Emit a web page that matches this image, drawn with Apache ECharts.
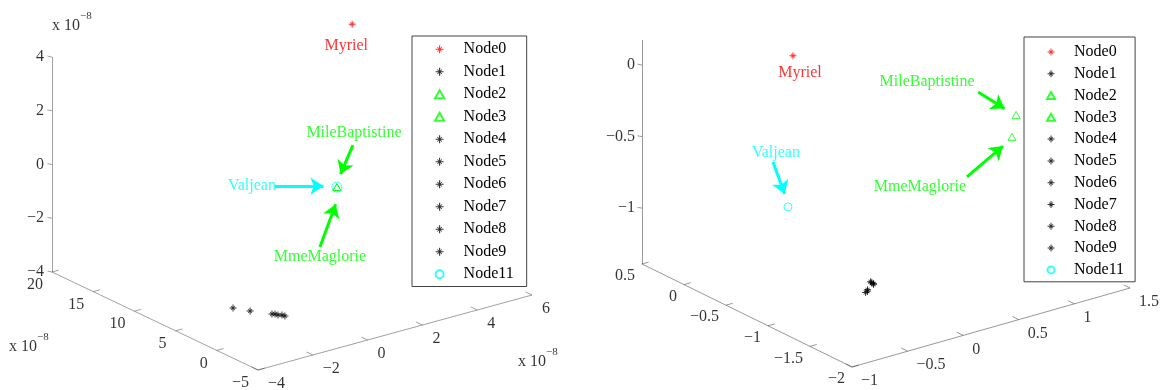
<!DOCTYPE html>
<html><head><meta charset="utf-8">
<script src="https://cdn.jsdelivr.net/npm/echarts@6/dist/echarts.min.js"></script>
<style>html,body{margin:0;padding:0;background:#fff}#c{width:1163px;height:390px}</style>
</head><body><div id="c"></div>
<script>
// ---------------- DATA ----------------
const nodeNames = ['Node0','Node1','Node2','Node3','Node4','Node5','Node6','Node7','Node8','Node9','Node11'];
const nodeKind  = ['redStar','star','tri','tri','star','star','star','star','star','star','circle'];

// left panel, values in units of 1e-8
const leftX = [4.55, -1.82, 1.50, 1.50, -1.57, -1.21, -1.14, -1.12, -1.03, -1.01, 1.50];
const leftY = [12.0, 5.28, 3.71, 3.71, 4.04, 2.58, 2.44, 2.15, 1.97, 1.68, 3.71];
const leftZ = [4.0, -3.8, 0.0, 0.0, -3.8, -3.8, -3.8, -3.8, -3.8, -3.8, 0.0];

// right panel
const rightX = [-0.166, -0.06, 1.216, 1.103, -0.05, -0.18, -0.07, -0.19, -0.06, -0.18, -0.155];
const rightY = [-0.193, -0.99, -1.02, -1.12, -1.00, -1.10, -0.99, -1.09, -1.01, -1.10, -0.119];
const rightZ = [0.08, -1.30, -0.40, -0.50, -1.31, -1.30, -1.29, -1.31, -1.30, -1.29, -1.0];

const leftXTicks = [-4, -2, 0, 2, 4, 6];
const leftYTicks = [-5, 0, 5, 10, 15, 20];
const leftZTicks = [-4, -2, 0, 2, 4];
const rightXTicks = [-1, -0.5, 0, 0.5, 1, 1.5];
const rightYTicks = [-2, -1.5, -1, -0.5, 0, 0.5];
const rightZTicks = [-1, -0.5, 0];

const leftRange  = {x: [-4, 6], y: [-5, 20], z: [-4, 4]};
const rightRange = {x: [-1, 1.5], y: [-2, 0.5], z: [-1.39, 0.175]};

const annoText  = ['Myriel', 'MileBaptistine', 'MmeMaglorie', 'Valjean'];
const annoNode  = ['Node0', 'Node2', 'Node3', 'Node11'];
const multiplierText = '−8';

// ---------------- LAYOUT / STYLE ----------------
const FONT = 'Liberation Serif';
const colors = {redStar: '#ff0000', star: '#000000', tri: '#00ff00', circle: '#00ffff'};
const annoColor = ['#ff0000', '#00ff00', '#00ff00', '#00ffff'];
const starPath = 'path://M8.6,0H11.4V20H8.6Z M0,8.6H20V11.4H0Z M5,3.6L16.4,15L15,16.4L3.6,5Z M15,3.6L16.4,5L5,16.4L3.6,15Z';
const triPath = 'path://M10,0L20,17.32L0,17.32Z';

const panels = [
  {
    range: leftRange, xs: leftX, ys: leftY, zs: leftZ,
    xTicks: leftXTicks, yTicks: leftYTicks, zTicks: leftZTicks,
    corner: [258, 370], xEnd: [532, 295], yEnd: [52, 272], zTop: [52, 57],
    axisColor: '#444',
    xLab: [10, 14], yLab: [-9, 13], zLab: [-8, 0], tickLen: 7, zTickLen: 5,
    sizes: {redStar: 7, star: 7, tri: 8, circle: 10},
    anno: [
      {t: [-6, 22]},
      {t: [17, -54], a: [16, -42], h: [1, -7]},
      {t: [-17, 70], a: [-17, 60], h: [1, 11]},
      {t: [-85, -1], a: [-62, -1], h: [-7, -1]}
    ],
    mult: [ {at: 'z', off: [0, -31]}, {at: 'y', off: [-43, 75]}, {at: 'x', off: [-14, 67]} ]
  },
  {
    range: rightRange, xs: rightX, ys: rightY, zs: rightZ,
    xTicks: rightXTicks, yTicks: rightYTicks, zTicks: rightZTicks,
    corner: [852, 367], xEnd: [1130, 288], yEnd: [642, 264], zTop: [642, 40],
    axisColor: '#333',
    xLab: [9, 14], yLab: [-7, 12], zLab: [-7, 0], tickLen: 7, zTickLen: 5,
    sizes: {redStar: 7, star: 7, tri: 8, circle: 8},
    anno: [
      {t: [7, 17]},
      {t: [-89, -33], a: [-38, -23], h: [-6, -3]},
      {t: [-92, 50], a: [-45, 40], h: [-4, 5]},
      {t: [-12, -54], a: [-15, -45], h: [-1, -7]}
    ],
    mult: []
  }
];

// ---------------- PROJECTION ----------------
panels.forEach(P => {
  const r = P.range;
  const dx = r.x[1] - r.x[0], dy = r.y[1] - r.y[0], dz = r.z[1] - r.z[0];
  P.X = [(P.xEnd[0] - P.corner[0]) / dx, (P.xEnd[1] - P.corner[1]) / dx];
  P.Y = [(P.yEnd[0] - P.corner[0]) / dy, (P.yEnd[1] - P.corner[1]) / dy];
  P.Z = [(P.zTop[0] - P.yEnd[0]) / dz, (P.zTop[1] - P.yEnd[1]) / dz];
  P.proj = (x, y, z) => {
    const a = x - r.x[0], b = y - r.y[0], c = z - r.z[0];
    return [P.corner[0] + a * P.X[0] + b * P.Y[0] + c * P.Z[0],
            P.corner[1] + a * P.X[1] + b * P.Y[1] + c * P.Z[1]];
  };
});
const unit = v => { const l = Math.hypot(v[0], v[1]); return [v[0] / l, v[1] / l]; };
const add = (p, o) => [p[0] + o[0], p[1] + o[1]];
const fmt = v => String(v).replace('-', '\u2212');

const series = [];

// axes
const axisLines = [], tickLabels = [];
panels.forEach(P => {
  const r = P.range;
  const lineStyle = {color: P.axisColor, width: 1};
  const xa = [P.proj(r.x[0], r.y[0], r.z[0]), P.proj(r.x[1], r.y[0], r.z[0])];
  const ya = [P.proj(r.x[0], r.y[0], r.z[0]), P.proj(r.x[0], r.y[1], r.z[0])];
  const za = [P.proj(r.x[0], r.y[1], r.z[0]), P.proj(r.x[0], r.y[1], r.z[1])];
  [xa, ya, za].forEach(c => axisLines.push({coords: c, lineStyle}));
  const uX = unit(P.X), uY = unit(P.Y);
  P.xTicks.forEach(v => {
    const p = P.proj(v, r.y[0], r.z[0]);
    axisLines.push({coords: [p, add(p, [uY[0] * P.tickLen, uY[1] * P.tickLen])], lineStyle});
    tickLabels.push({value: p, name: fmt(v), label: {position: P.xLab, align: 'left'}});
  });
  P.yTicks.forEach(v => {
    const p = P.proj(r.x[0], v, r.z[0]);
    axisLines.push({coords: [p, add(p, [uX[0] * P.tickLen, uX[1] * P.tickLen])], lineStyle});
    tickLabels.push({value: p, name: fmt(v), label: {position: P.yLab, align: 'right'}});
  });
  P.zTicks.forEach(v => {
    const p = P.proj(r.x[0], r.y[1], v);
    axisLines.push({coords: [p, add(p, [uY[0] * P.zTickLen, uY[1] * P.zTickLen * 0.4])], lineStyle});
    tickLabels.push({value: p, name: fmt(v), label: {position: P.zLab, align: 'right'}});
  });
});
series.push({type: 'lines', coordinateSystem: 'cartesian2d', name: 'axes', silent: true, z: 1,
  data: axisLines, symbol: ['none', 'none']});
series.push({type: 'scatter', name: 'ticklabels', silent: true, symbolSize: 0, z: 2,
  data: tickLabels,
  label: {show: true, formatter: '{b}', verticalAlign: 'middle', fontFamily: FONT, fontSize: 16, color: '#000'}});

// multipliers
const multData = [];
panels.forEach(P => {
  const r = P.range;
  P.mult.forEach(m => {
    let p;
    if (m.at === 'z') p = P.proj(r.x[0], r.y[1], r.z[1]);
    if (m.at === 'y') p = P.proj(r.x[0], r.y[1], r.z[0]);
    if (m.at === 'x') p = P.proj(r.x[1], r.y[0], r.z[0]);
    multData.push({value: p, name: multiplierText, label: {position: m.off}});
  });
});
series.push({type: 'scatter', name: 'mult', silent: true, symbolSize: 0, z: 2, data: multData,
  label: {show: true, align: 'left', verticalAlign: 'middle',
    formatter: p => '{b|x 10}{s|' + p.name + '}',
    rich: {b: {fontFamily: FONT, fontSize: 16, lineHeight: 30, color: '#000'},
           s: {fontFamily: FONT, fontSize: 11, lineHeight: 11, verticalAlign: 'top', color: '#000'}}}});

// nodes
nodeNames.forEach((name, i) => {
  const kind = nodeKind[i];
  const hollow = (kind === 'tri' || kind === 'circle');
  const symbol = kind === 'tri' ? triPath : (kind === 'circle' ? 'circle' : starPath);
  const data = panels.map(P => ({value: P.proj(P.xs[i], P.ys[i], P.zs[i]), symbolSize: P.sizes[kind]}));
  series.push({
    type: 'scatter', name, symbol, data, z: 5, silent: true, symbolKeepAspect: true,
    itemStyle: hollow ? {color: 'rgba(255,255,255,0)', borderColor: colors[kind], borderWidth: 1}
                      : {color: colors[kind], borderWidth: 0}
  });
});

// annotations
const annoLabels = [], arrows = [];
const ARROW = 13;
panels.forEach(P => {
  annoText.forEach((txt, k) => {
    const i = nodeNames.indexOf(annoNode[k]);
    const p = P.proj(P.xs[i], P.ys[i], P.zs[i]);
    const A = P.anno[k];
    annoLabels.push({value: add(p, A.t), name: txt, label: {color: annoColor[k]}});
    if (A.a) {
      const tail = add(p, A.a), head = add(p, A.h);
      const u = unit([head[0] - tail[0], head[1] - tail[1]]);
      const headC = [head[0] - u[0] * ARROW / 2, head[1] - u[1] * ARROW / 2];
      arrows.push({coords: [tail, headC], lineStyle: {color: annoColor[k]}});
    }
  });
});
series.push({type: 'scatter', name: 'annotations', silent: true, symbolSize: 0, z: 6, data: annoLabels,
  label: {show: true, position: 'inside', formatter: '{b}', fontFamily: FONT, fontSize: 16}});
series.push({type: 'lines', coordinateSystem: 'cartesian2d', name: 'arrows', silent: true, z: 7,
  data: arrows, symbol: ['none', 'arrow'], symbolSize: ARROW, lineStyle: {width: 3, opacity: 1}});

const legendBase = {
  data: nodeNames, orient: 'vertical', itemGap: 0, selectedMode: false, symbolKeepAspect: true,
  borderColor: '#444', borderWidth: 1, backgroundColor: '#fff', z: 10
};
const option = {
  animation: false,
  grid: {left: 0, right: 0, top: 0, bottom: 0},
  xAxis: {type: 'value', min: 0, max: 1163, show: false},
  yAxis: {type: 'value', min: 0, max: 390, inverse: true, show: false},
  legend: [
    Object.assign({}, legendBase, {left: 412, top: 36, padding: [2, 13, 1, 22], itemWidth: 38, itemHeight: 8,
      textStyle: {fontFamily: FONT, fontSize: 16, color: '#000', lineHeight: 22.5}}),
    Object.assign({}, legendBase, {left: 1024, top: 37, padding: [4, 11, 1, 22], itemWidth: 36, itemHeight: 7,
      textStyle: {fontFamily: FONT, fontSize: 16, color: '#000', lineHeight: 21.8}})
  ],
  series
};
const chart = echarts.init(document.getElementById('c'));
chart.setOption(option);
</script></body></html>
